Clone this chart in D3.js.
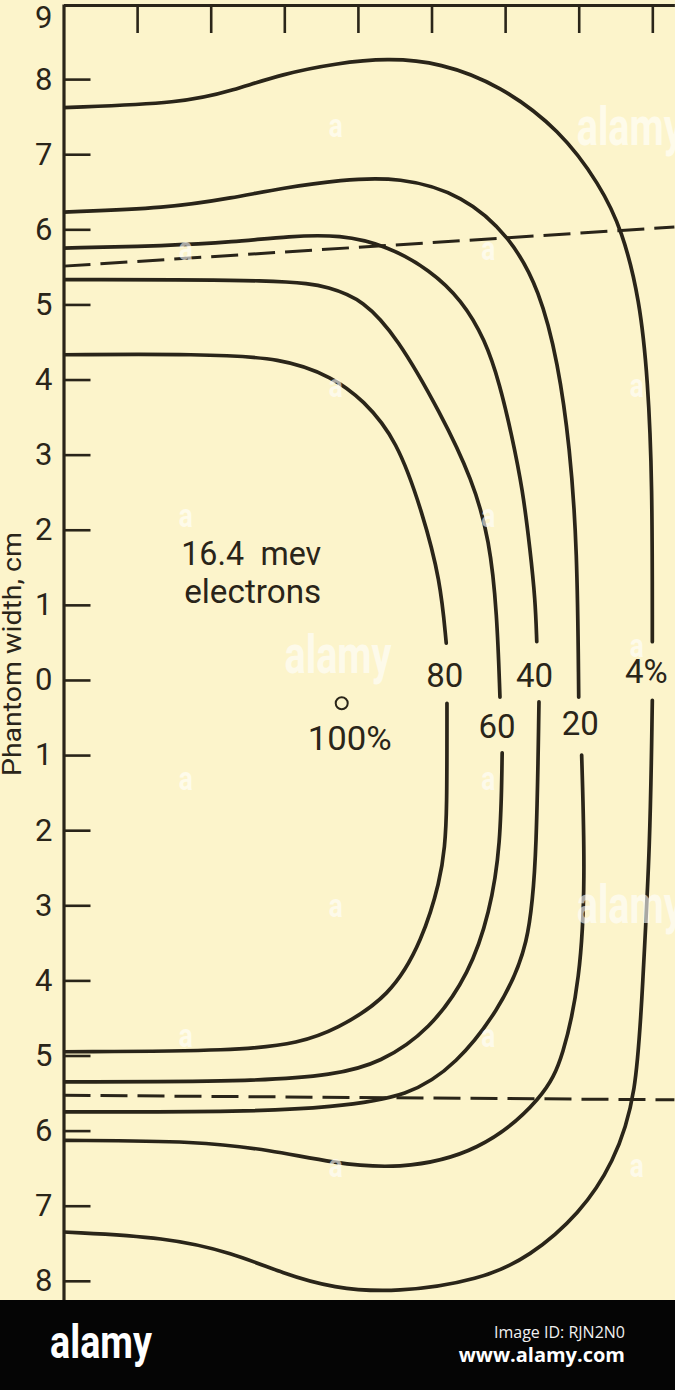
<!DOCTYPE html>
<html><head><meta charset="utf-8">
<script src="https://cdn.jsdelivr.net/npm/d3@7"></script>
<style>html,body{margin:0;padding:0;background:#fcf4cb;} svg{display:block}</style>
</head><body><svg id="c" width="675" height="1390"></svg>
<script>
// ---- data (cm) ----
const yTicks = [9,8,7,6,5,4,3,2,1,0,-1,-2,-3,-4,-5,-6,-7,-8];
const xTicks = [1,2,3,4,5,6,7,8];
const yTitle = "Phantom width, cm";

const c80Upper = [[0,4.33],[1.85,4.34],[2.98,4.29],[3.66,4.03],[4.07,3.73],[4.53,3.20],[4.88,2.22],[5.12,1.33],[5.20,0.49]];
const c80Lower = [[5.21,-0.31],[5.21,-1.77],[5.18,-2.22],[5.12,-2.66],[4.88,-3.46],[4.44,-4.22],[3.69,-4.66],[3.21,-4.83],[2.40,-4.94],[0,-4.95]];
const c60Upper = [[0,5.33],[3.08,5.33],[3.62,5.23],[4.07,5.06],[4.53,4.57],[5.12,3.56],[5.56,2.66],[5.79,1.86],[5.89,0.89],[5.93,-0.23]];
const c60Lower = [[5.96,-0.97],[5.94,-2.22],[5.79,-3.10],[5.52,-3.90],[4.98,-4.66],[4.30,-5.10],[3.69,-5.26],[2.53,-5.35],[0,-5.35]];
const c40Upper = [[0,5.75],[1.41,5.78],[2.30,5.83],[3.08,5.91],[3.76,5.93],[4.40,5.78],[4.98,5.46],[5.41,5.06],[5.73,4.53],[5.93,3.93],[6.09,3.26],[6.24,2.53],[6.34,1.73],[6.41,1.07],[6.43,0.51]];
const c40Lower = [[6.46,-0.29],[6.43,-2.22],[6.34,-3.56],[5.89,-4.43],[5.35,-5.10],[4.71,-5.55],[3.62,-5.69],[2.53,-5.75],[0,-5.75]];
const c20Upper = [[0,6.23],[1.41,6.28],[2.30,6.42],[2.98,6.55],[3.76,6.66],[4.57,6.70],[5.43,6.46],[6.07,5.90],[6.47,5.19],[6.72,4.22],[6.88,3.10],[6.98,1.77],[7.00,-0.23]];
const c20Lower = [[7.04,-1.00],[7.09,-2.66],[7.02,-3.99],[6.79,-5.02],[6.54,-5.55],[5.66,-6.30],[4.53,-6.52],[3.66,-6.43],[2.81,-6.26],[1.85,-6.14],[0,-6.13]];
const c4Upper = [[0,7.62],[1.63,7.68],[2.30,7.85],[2.98,8.07],[3.70,8.21],[4.40,8.28],[5.12,8.22],[5.93,7.92],[6.75,7.32],[7.29,6.59],[7.59,5.99],[7.83,5.06],[7.94,3.99],[8.00,2.66],[8.00,0.51]];
const c4Lower = [[8.00,-0.27],[7.97,-2.22],[7.87,-3.99],[7.79,-5.55],[7.47,-6.44],[7.02,-7.10],[6.34,-7.68],[5.66,-7.99],[4.53,-8.16],[3.66,-8.10],[2.98,-7.90],[2.30,-7.63],[1.41,-7.42],[0,-7.35]];
const contourSegments = [c80Upper,c80Lower,c60Upper,c60Lower,c40Upper,c40Lower,c20Upper,c20Lower,c4Upper,c4Lower];

const dashTop = [[0,5.51],[8.3,6.03]];
const dashBottom = [[0,-5.53],[8.3,-5.59]];

const contourLabels = [
  {t:"80", x:5.18, y:-0.09, a:"middle"},
  {t:"40", x:6.40, y:-0.09, a:"middle"},
  {t:"4%", x:7.63, y:-0.04, a:"start"},
  {t:"60", x:5.89, y:-0.77, a:"middle"},
  {t:"20", x:7.02, y:-0.73, a:"middle"}
];
const centerPoint = [3.78,-0.31];
const centerLabel = {t:"100%", x:3.89, y:-0.93, w:84};
const beamLabel = [{t:"16.4\u2002mev", x:2.55, y:1.53, w:140},{t:"electrons", x:2.57, y:1.03, w:137}];

// watermark positions (same cm coordinates)
const wmSmall = [[-0.36,7.23],[3.70,7.23],[1.66,5.59],[5.77,5.59],[-0.36,3.77],[3.70,3.77],[7.79,3.77],[1.66,2.04],[5.77,2.04],[-0.36,0.31],[7.79,0.31],[1.66,-1.46],[5.77,-1.46],[-0.36,-3.16],[3.70,-3.16],[1.66,-4.89],[5.77,-4.89],[-0.36,-6.62],[3.70,-6.62],[7.79,-6.62]];
const wmBig = [[7.70,7.12],[3.73,0.09],[7.70,-3.24]];

// ---- drawing ----
const W = 675, H = 1390, bannerTop = 1300;
const ink = "#2a2519";
const font = "Roboto, 'Liberation Sans', sans-serif";
const svg = d3.select("#c");
svg.append("rect").attr("width",W).attr("height",H).attr("fill","#fcf4cb");

const x = d3.scaleLinear().domain([0, 8.3]).range([63.5, 674.4]);
const y = d3.scaleLinear().domain([9, -8.25]).range([4, 1299.6]);

svg.append("clipPath").attr("id","plot").append("rect")
  .attr("x", x(0)).attr("y", y(9)).attr("width", W - x(0)).attr("height", bannerTop - y(9));

const line = d3.line().x(d=>x(d[0])).y(d=>y(d[1])).curve(d3.curveBasis);
const straight = d3.line().x(d=>x(d[0])).y(d=>y(d[1]));

const g = svg.append("g").attr("clip-path","url(#plot)");
g.selectAll("path.contour").data(contourSegments).join("path")
  .attr("class","contour").attr("d", line)
  .attr("fill","none").attr("stroke",ink).attr("stroke-width",3.7).attr("stroke-linecap","round");
g.selectAll("path.dash").data([dashTop, dashBottom]).join("path")
  .attr("class","dash").attr("d", straight)
  .attr("fill","none").attr("stroke",ink).attr("stroke-width",3).attr("stroke-dasharray","27,10");

// axes
const yAxis = d3.axisLeft(y).tickValues(yTicks).tickSizeInner(-27).tickSizeOuter(0).tickPadding(11)
  .tickFormat(d=>Math.abs(d));
const ya = svg.append("g").attr("transform",`translate(${x(0)},0)`).call(yAxis);
ya.select(".domain").attr("stroke",ink).attr("stroke-width",3.2);
ya.selectAll(".tick line").attr("stroke",ink).attr("stroke-width",2.6);
ya.selectAll(".tick text").attr("fill",ink).attr("font-family",font).attr("font-size",31).attr("font-weight",400);
ya.selectAll(".tick").filter(d=>d===9).select("text").attr("dy","0.75em");
ya.selectAll(".tick").filter(d=>d===9).select("line").remove();

const xAxis = d3.axisTop(x).tickValues(xTicks).tickSizeInner(-28).tickSizeOuter(0).tickFormat("");
const xa = svg.append("g").attr("transform",`translate(0,${y(9)+1})`).call(xAxis);
xa.select(".domain").attr("stroke",ink).attr("stroke-width",3.2);
xa.selectAll(".tick line").attr("stroke",ink).attr("stroke-width",2.6);

// axis title
svg.append("text").attr("transform",`translate(21,${(y(1.97)+y(-1.28))/2}) rotate(-90)`)
  .attr("text-anchor","middle").attr("font-family",font).attr("font-size",25).attr("font-weight",400)
  .attr("fill",ink).attr("textLength",244).attr("lengthAdjust","spacingAndGlyphs").text(yTitle);

// labels
svg.selectAll("text.cl").data(contourLabels).join("text").attr("class","cl")
  .attr("x",d=>x(d.x)).attr("y",d=>y(d.y)).attr("text-anchor",d=>d.a)
  .attr("font-family",font).attr("font-size",33).attr("font-weight",400).attr("fill",ink).text(d=>d.t);

svg.append("circle").attr("cx",x(centerPoint[0])).attr("cy",y(centerPoint[1])).attr("r",6)
  .attr("fill","none").attr("stroke",ink).attr("stroke-width",2);
svg.append("text").attr("x",x(centerLabel.x)).attr("y",y(centerLabel.y)).attr("text-anchor","middle")
  .attr("font-family",font).attr("font-size",34).attr("font-weight",400).attr("fill",ink)
  .attr("textLength",centerLabel.w).attr("lengthAdjust","spacingAndGlyphs").text(centerLabel.t);
svg.selectAll("text.bl").data(beamLabel).join("text").attr("class","bl")
  .attr("x",d=>x(d.x)).attr("y",d=>y(d.y)).attr("text-anchor","middle")
  .attr("font-family",font).attr("font-size",34).attr("font-weight",400).attr("fill",ink)
  .attr("textLength",d=>d.w).attr("lengthAdjust","spacingAndGlyphs").text(d=>d.t);

// watermark overlay
const wm = svg.append("g").attr("clip-path","url(#plot)").attr("fill","#ffffff").attr("opacity",0.6)
  .attr("font-family",font).attr("font-weight",700);
wm.selectAll("text.s").data(wmSmall).join("text").attr("class","s")
  .attr("x",d=>x(d[0])).attr("y",d=>y(d[1])).attr("text-anchor","middle").attr("font-size",34)
  .attr("textLength",14).attr("lengthAdjust","spacingAndGlyphs").text("a");
wm.selectAll("text.b").data(wmBig).join("text").attr("class","b")
  .attr("x",d=>x(d[0])).attr("y",d=>y(d[1])).attr("text-anchor","middle").attr("font-size",54)
  .attr("textLength",107).attr("lengthAdjust","spacingAndGlyphs").text("alamy");

// banner
svg.append("rect").attr("x",0).attr("y",bannerTop).attr("width",W).attr("height",H-bannerTop).attr("fill","#050505");
svg.append("text").attr("x",50).attr("y",bannerTop+58).attr("font-family",font).attr("font-weight",700)
  .attr("font-size",46).attr("fill","#fff").attr("textLength",102).attr("lengthAdjust","spacingAndGlyphs").text("alamy");
svg.append("text").attr("x",625).attr("y",bannerTop+38).attr("text-anchor","end").attr("font-family","'Open Sans', sans-serif")
  .attr("font-size",16).attr("fill","#f0f0f0").text("Image ID: RJN2N0");
svg.append("text").attr("x",625).attr("y",bannerTop+62).attr("text-anchor","end").attr("font-family","'Open Sans', sans-serif")
  .attr("font-weight",700).attr("font-size",20).attr("fill","#fff").text("www.alamy.com");
</script></body></html>
